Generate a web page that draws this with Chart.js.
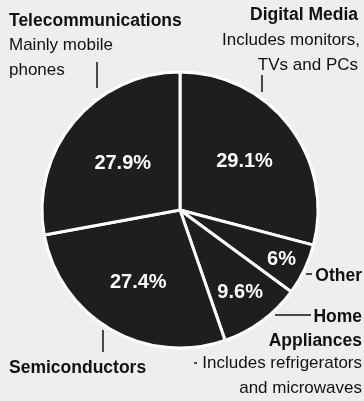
<!DOCTYPE html>
<html>
<head>
<meta charset="utf-8">
<script src="https://cdn.jsdelivr.net/npm/chart.js@4"></script>
<style>
  body { margin: 0; background: #eeeeee; }
  canvas { display: block; }
</style>
</head>
<body>
<canvas id="pie" width="364" height="401"></canvas>
<script>
// slices clockwise from 12 o'clock
const categories = ['Digital Media', 'Other', 'Home Appliances', 'Semiconductors', 'Telecommunications'];
const shares = [29.1, 6, 9.6, 27.4, 27.9];
const shareLabels = ['29.1%', '6%', '9.6%', '27.4%', '27.9%'];

// how far out (fraction of radius) each percent label sits
const labelRadius = [0.59, 0.815, 0.735, 0.60, 0.54];

const INK = '#111';

// outer captions: [text, x, y, bold, align]
const captions = [
  ['Telecommunications', 9, 26, true, 'left'],
  ['Mainly mobile', 9, 50, false, 'left'],
  ['phones', 9, 75, false, 'left'],
  ['Digital Media', 358, 20, true, 'right'],
  ['Includes monitors,', 360, 45, false, 'right'],
  ['TVs and PCs', 358, 70, false, 'right'],
  ['Other', 362, 281, true, 'right'],
  ['Home', 362, 322, true, 'right'],
  ['Appliances', 362, 346, true, 'right'],
  ['Includes refrigerators', 362, 368, false, 'right'],
  ['and microwaves', 362, 393, false, 'right'],
  ['Semiconductors', 9, 373, true, 'left']
];

// leader lines [x1, y1, x2, y2]
const leaders = [
  [97, 62, 97, 88],
  [262, 75, 262, 92],
  [306, 274, 312, 274],
  [275, 315, 311, 315],
  [103, 330, 103, 352],
  [194, 363, 197, 363]
];

const labelPlugin = {
  id: 'labels',
  afterDraw(chart) {
    const ctx = chart.ctx;
    const arcs = chart.getDatasetMeta(0).data;
    ctx.save();
    ctx.fillStyle = '#fff';
    ctx.font = 'bold 20px "Liberation Sans", Arial, sans-serif';
    ctx.textAlign = 'center';
    ctx.textBaseline = 'middle';
    arcs.forEach((arc, i) => {
      const mid = (arc.startAngle + arc.endAngle) / 2;
      const r = arc.outerRadius * labelRadius[i];
      ctx.fillText(shareLabels[i], arc.x + Math.cos(mid) * r, arc.y + Math.sin(mid) * r + 1);
    });

    ctx.textBaseline = 'alphabetic';
    ctx.fillStyle = INK;
    captions.forEach(([t, x, y, bold, align]) => {
      ctx.font = bold ? 'bold 17.5px "Liberation Sans", Arial, sans-serif'
                      : '17px "Liberation Sans", Arial, sans-serif';
      ctx.textAlign = align;
      ctx.fillText(t, x, y);
    });

    ctx.strokeStyle = INK;
    ctx.lineWidth = 1.5;
    leaders.forEach(([x1, y1, x2, y2]) => {
      ctx.beginPath();
      ctx.moveTo(x1, y1);
      ctx.lineTo(x2, y2);
      ctx.stroke();
    });
    ctx.restore();
  }
};

new Chart(document.getElementById('pie'), {
  type: 'pie',
  data: {
    labels: categories,
    datasets: [{
      data: shares,
      backgroundColor: '#1e1e1e',
      borderColor: '#fff',
      borderWidth: 3
    }]
  },
  options: {
    responsive: false,
    animation: false,
    layout: { padding: { left: 40.5, right: 44.5, top: 70.5, bottom: 51.5 } },
    plugins: {
      legend: { display: false },
      tooltip: { enabled: false }
    }
  },
  plugins: [labelPlugin]
});
</script>
</body>
</html>
